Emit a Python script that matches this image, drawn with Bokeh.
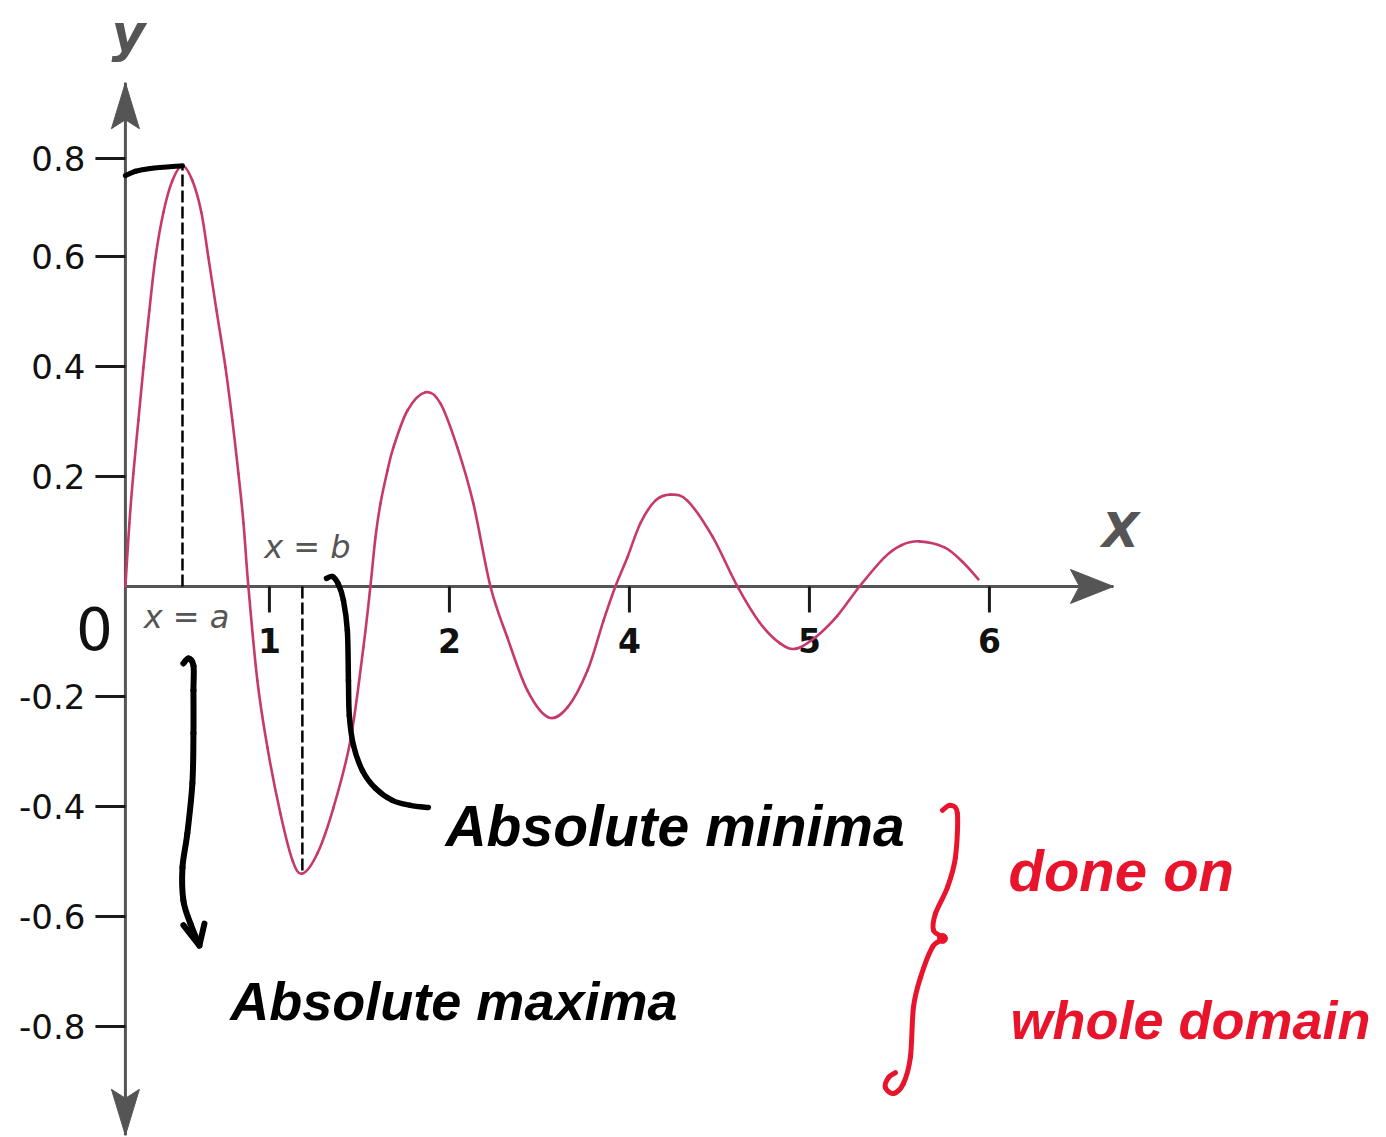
import numpy as np
from bokeh.plotting import figure
from bokeh.models import Range1d
from bokeh.core.properties import value
from bokeh.embed import file_html
from bokeh.resources import INLINE

# ---- damped oscillation, read point by point ----
curve_x = [0.000, 0.022, 0.044, 0.072, 0.100, 0.133, 0.167, 0.211, 0.261, 0.317,
           0.372, 0.422, 0.461, 0.506, 0.556, 0.594, 0.628, 0.656, 0.683,
           0.733, 0.789, 0.861, 0.928, 0.983, 1.067, 1.156, 1.250, 1.322, 1.361,
           1.389, 1.417, 1.456, 1.489, 1.567, 1.667, 1.750, 1.844, 1.933,
           2.028, 2.122, 2.233, 2.350, 2.456, 2.567, 2.656, 2.722, 2.789, 2.861,
           2.944, 3.028, 3.122, 3.261, 3.400, 3.522, 3.639, 3.728, 3.839, 3.956,
           4.078, 4.217, 4.311, 4.411, 4.550, 4.650, 4.739]
curve_y = [0.000, 0.115, 0.205, 0.302, 0.398, 0.502, 0.598, 0.680, 0.738, 0.765,
           0.738, 0.680, 0.598, 0.502, 0.398, 0.302, 0.205, 0.115, 0.000,
           -0.171, -0.293, -0.413, -0.498, -0.522, -0.485, -0.402, -0.280, -0.111, 0.000,
           0.089, 0.151, 0.211, 0.253, 0.320, 0.353, 0.333, 0.253, 0.151,
           0.000, -0.093, -0.189, -0.238, -0.220, -0.153, -0.062, 0.000, 0.053, 0.115,
           0.156, 0.167, 0.156, 0.091, 0.000, -0.065, -0.104, -0.113, -0.091, -0.053,
           0.000, 0.053, 0.075, 0.082, 0.071, 0.045, 0.013]

# axis ticks
x_tick_pos = [0.8, 1.8, 2.8, 3.8, 4.8]
x_tick_text = ["1", "2", "4", "5", "6"]
y_tick_pos = [0.778, 0.6, 0.4, 0.2, -0.2, -0.4, -0.6, -0.8]
y_tick_text = ["0.8", "0.6", "0.4", "0.2", "-0.2", "-0.4", "-0.6", "-0.8"]

# hand-drawn annotation strokes (data units)
max_bracket_x = [0.000, 0.056, 0.139, 0.317]
max_bracket_y = [0.747, 0.755, 0.760, 0.765]

max_arrow_x = [0.322, 0.350, 0.378, 0.378, 0.378, 0.372, 0.344, 0.317, 0.322, 0.361, 0.411]
max_arrow_y = [-0.140, -0.131, -0.144, -0.189, -0.267, -0.358, -0.449, -0.511, -0.571, -0.613, -0.653]
max_head_x = [0.322, 0.411, 0.439]
max_head_y = [-0.616, -0.653, -0.613]

min_pointer_x = [1.117, 1.150, 1.183, 1.211, 1.233, 1.239, 1.244, 1.267, 1.317, 1.389, 1.483, 1.583, 1.683]
min_pointer_y = [0.0145, 0.018, 0.004, -0.025, -0.080, -0.171, -0.235, -0.289, -0.335, -0.367, -0.389, -0.398, -0.402]

brace_x = [4.539, 4.583, 4.622, 4.611, 4.567, 4.500, 4.489, 4.539, 4.483, 4.417,
           4.378, 4.361, 4.322, 4.267, 4.222, 4.239, 4.278]
brace_y = [-0.407, -0.398, -0.413, -0.493, -0.547, -0.595, -0.625, -0.640, -0.656, -0.711,
           -0.765, -0.856, -0.904, -0.922, -0.911, -0.893, -0.884]

W, H = 1386, 1137
X_MIN, X_MAX = -0.694, 7.006
Y_MIN, Y_MAX = -1.002, 1.0655
SX = (X_MAX - X_MIN) / W   # data units per screen pixel
SY = (Y_MAX - Y_MIN) / H

AXIS = "#555555"
CURVE = "#c7386c"
RED = "#e8142c"
LABEL_FONT = value("DejaVu Sans")
HAND_FONT = value("Liberation Sans")

p = figure(width=W, height=H, x_range=Range1d(X_MIN, X_MAX), y_range=Range1d(Y_MIN, Y_MAX),
           output_backend="svg", toolbar_location=None, x_axis_location=None,
           y_axis_location=None, min_border=0, outline_line_color=None)
p.grid.visible = False
p.background_fill_color = "white"


def smooth(fig, xs, ys, **kw):
    """Draw a smooth path through the given points as cubic Bezier pieces."""
    xs, ys = np.asarray(xs, float), np.asarray(ys, float)
    n = len(xs)
    xp = np.concatenate([[xs[0]], xs, [xs[-1]]])
    yp = np.concatenate([[ys[0]], ys, [ys[-1]]])
    i = np.arange(n - 1)
    fig.bezier(x0=xs[:-1], y0=ys[:-1], x1=xs[1:], y1=ys[1:],
               cx0=xs[:-1] + (xp[i + 2] - xp[i]) / 6, cy0=ys[:-1] + (yp[i + 2] - yp[i]) / 6,
               cx1=xs[1:] - (xp[i + 3] - xp[i + 1]) / 6, cy1=ys[1:] - (yp[i + 3] - yp[i + 1]) / 6,
               line_cap="round", **kw)


# axes with arrows
y_top, y_bot = 0.916, -0.998
x_end = 5.489
p.line([0, 0], [y_bot, y_top], line_color=AXIS, line_width=3)
p.line([0, x_end], [0, 0], line_color=AXIS, line_width=3)


def stealth(tx, ty, dx, dy, length, half, notch):
    # arrowhead pointing along (dx, dy), sizes in screen pixels
    px, py = -dy, dx
    pts = [(0, 0), (-length * dx + half * px, -length * dy + half * py),
           (-notch * dx, -notch * dy), (-length * dx - half * px, -length * dy - half * py)]
    return [tx + a * SX for a, b in pts], [ty + b * SY for a, b in pts]


for tx, ty, dx, dy, ln, hf, nt in [(0, y_top, 0, 1, 46, 14, 37), (0, y_bot, 0, -1, 46, 14, 37),
                                   (x_end, 0, 1, 0, 43, 17, 34)]:
    hx, hy = stealth(tx, ty, dx, dy, ln, hf, nt)
    p.patch(hx, hy, fill_color=AXIS, line_color=AXIS, line_width=1)

# ticks
p.segment(x0=[-30 * SX] * len(y_tick_pos), y0=y_tick_pos, x1=[0] * len(y_tick_pos), y1=y_tick_pos,
          line_color="#1a1a1a", line_width=3)
p.segment(x0=x_tick_pos, y0=[0] * len(x_tick_pos), x1=x_tick_pos, y1=[-26 * SY] * len(x_tick_pos),
          line_color="#1a1a1a", line_width=3)
p.text(x=[-40 * SX] * len(y_tick_pos), y=y_tick_pos, text=y_tick_text, text_font=LABEL_FONT,
       text_font_size="34px", text_align="right", text_baseline="middle", text_color="#111111")
p.text(x=x_tick_pos, y=[-42 * SY] * len(x_tick_pos), text=x_tick_text, text_font=LABEL_FONT,
       text_font_size="33px", text_font_style="bold", text_align="center", text_baseline="top",
       text_color="#111111")
p.text(x=[-31 * SX], y=[-42 * SY], text=["0"], text_font=LABEL_FONT, text_font_size="58px",
       text_align="center", text_baseline="middle", text_color="#111111")

# axis titles
p.text(x=[3 * SX], y=[y_top + 50 * SY], text=["y"], text_font=LABEL_FONT,
       text_font_size="52px", text_font_style="bold italic", text_align="center",
       text_baseline="middle", text_color=AXIS)
p.text(x=[x_end + 7 * SX], y=[56 * SY], text=["X"], text_font=LABEL_FONT,
       text_font_size="48px", text_font_style="bold italic", text_align="center",
       text_baseline="middle", text_color=AXIS)

# extreme points taken from the curve itself
i_max = int(np.argmax(curve_y))
i_min = int(np.argmin(curve_y))
a_x, a_y = curve_x[i_max], curve_y[i_max]
b_x, b_y = curve_x[i_min], curve_y[i_min]
p.segment(x0=[a_x, b_x], y0=[0, 0], x1=[a_x, b_x], y1=[a_y, b_y], line_color="black",
          line_width=2.5, line_dash="12 4")

smooth(p, curve_x, curve_y, line_color=CURVE, line_width=2.6)

p.text(x=[a_x + 4 * SX], y=[-31 * SY], text=["x = a"], text_font=LABEL_FONT,
       text_font_size="32px", text_font_style="italic", text_align="center",
       text_baseline="middle", text_color=AXIS)
p.text(x=[b_x + 5 * SX], y=[39 * SY], text=["x = b"], text_font=LABEL_FONT,
       text_font_size="32px", text_font_style="italic", text_align="center",
       text_baseline="middle", text_color=AXIS)

# black hand annotations
smooth(p, max_bracket_x, max_bracket_y, line_color="black", line_width=5)
smooth(p, max_arrow_x, max_arrow_y, line_color="black", line_width=6)
p.line(max_head_x, max_head_y, line_color="black", line_width=6, line_cap="round",
       line_join="round")
smooth(p, min_pointer_x, min_pointer_y, line_color="black", line_width=5.5)
p.text(x=[1.778], y=[-0.435], text=["Absolute minima"], text_font=HAND_FONT,
       text_font_size="57px", text_font_style="bold italic", text_align="left",
       text_baseline="middle", text_color="black")
p.text(x=[0.583], y=[-0.753], text=["Absolute maxima"], text_font=HAND_FONT,
       text_font_size="54px", text_font_style="bold italic", text_align="left",
       text_baseline="middle", text_color="black")

# red brace and note
smooth(p, brace_x, brace_y, line_color=RED, line_width=5)
p.scatter([brace_x[7]], [brace_y[7]], size=10, color=RED)
p.text(x=[4.906], y=[-0.516], text=["done on"], text_font=HAND_FONT,
       text_font_size="58px", text_font_style="bold italic", text_align="left",
       text_baseline="middle", text_color=RED)
p.text(x=[4.917], y=[-0.789], text=["whole domain"], text_font=HAND_FONT,
       text_font_size="54px", text_font_style="bold italic", text_align="left",
       text_baseline="middle", text_color=RED)

open("out.html", "w").write(file_html(p, INLINE))
